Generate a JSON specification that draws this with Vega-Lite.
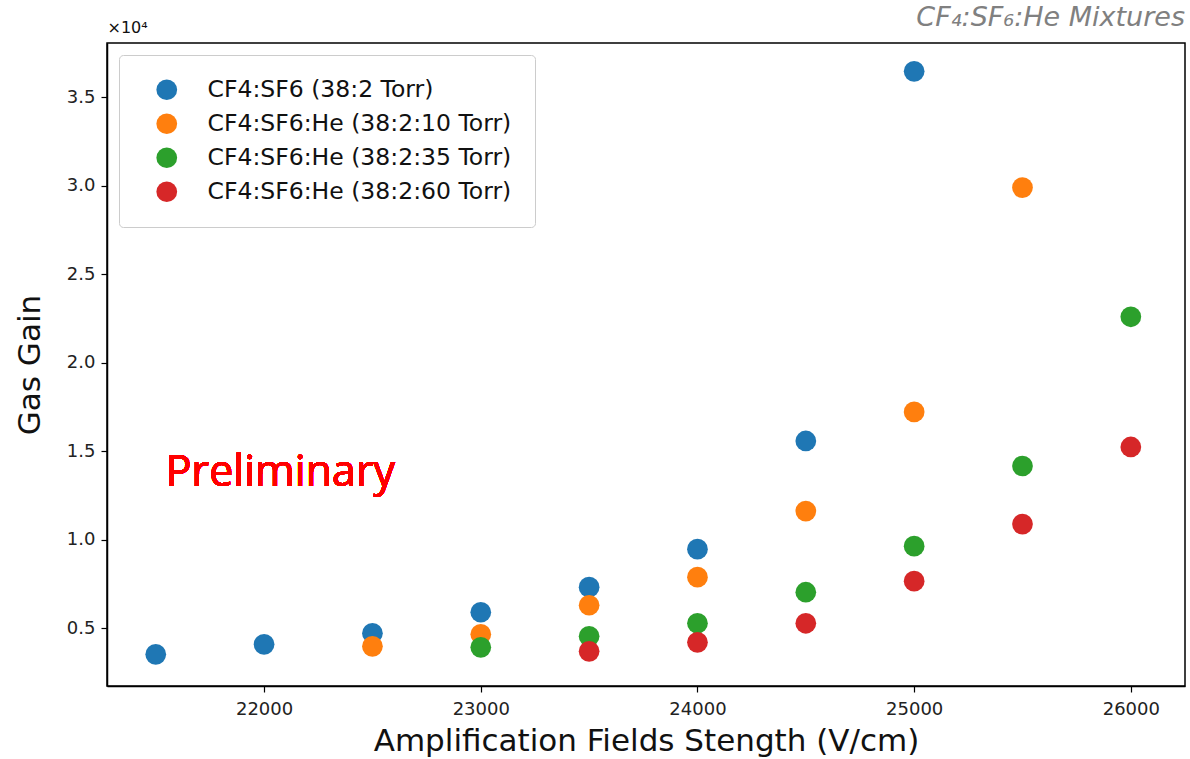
{
  "$schema": "https://vega.github.io/schema/vega-lite/v6.json",
  "width": 1078,
  "height": 643,
  "autosize": "none",
  "padding": {"left": 107, "top": 43, "right": 5, "bottom": 73},
  "background": "white",
  "config": {
    "font": "DejaVu Sans",
    "view": {"stroke": "black", "strokeWidth": 1.5},
    "axis": {
      "grid": false,
      "domainColor": "black",
      "domainWidth": 1.5,
      "tickColor": "black",
      "tickWidth": 1.2,
      "tickSize": 6,
      "labelColor": "#222222",
      "labelFontSize": 18,
      "labelFont": "DejaVu Sans",
      "titleFont": "DejaVu Sans",
      "titleFontWeight": "normal",
      "titleFontSize": 31,
      "titleColor": "#111111"
    }
  },
  "title": {
    "text": "CF₄:SF₆:He Mixtures",
    "anchor": "end",
    "font": "DejaVu Sans",
    "fontStyle": "italic",
    "fontWeight": "normal",
    "fontSize": 27,
    "color": "#808080",
    "offset": -13
  },
  "data": {
    "values": [
      {"field": 21500, "gain": 3530, "mix": "CF4:SF6 (38:2 Torr)"},
      {"field": 22000, "gain": 4095, "mix": "CF4:SF6 (38:2 Torr)"},
      {"field": 22500, "gain": 4717, "mix": "CF4:SF6 (38:2 Torr)"},
      {"field": 23000, "gain": 5905, "mix": "CF4:SF6 (38:2 Torr)"},
      {"field": 23500, "gain": 7319, "mix": "CF4:SF6 (38:2 Torr)"},
      {"field": 24000, "gain": 9468, "mix": "CF4:SF6 (38:2 Torr)"},
      {"field": 24500, "gain": 15577, "mix": "CF4:SF6 (38:2 Torr)"},
      {"field": 25000, "gain": 36448, "mix": "CF4:SF6 (38:2 Torr)"},
      {"field": 22500, "gain": 3982, "mix": "CF4:SF6:He (38:2:10 Torr)"},
      {"field": 23000, "gain": 4660, "mix": "CF4:SF6:He (38:2:10 Torr)"},
      {"field": 23500, "gain": 6300, "mix": "CF4:SF6:He (38:2:10 Torr)"},
      {"field": 24000, "gain": 7885, "mix": "CF4:SF6:He (38:2:10 Torr)"},
      {"field": 24500, "gain": 11618, "mix": "CF4:SF6:He (38:2:10 Torr)"},
      {"field": 25000, "gain": 17217, "mix": "CF4:SF6:He (38:2:10 Torr)"},
      {"field": 25500, "gain": 29887, "mix": "CF4:SF6:He (38:2:10 Torr)"},
      {"field": 23000, "gain": 3925, "mix": "CF4:SF6:He (38:2:35 Torr)"},
      {"field": 23500, "gain": 4548, "mix": "CF4:SF6:He (38:2:35 Torr)"},
      {"field": 24000, "gain": 5283, "mix": "CF4:SF6:He (38:2:35 Torr)"},
      {"field": 24500, "gain": 7036, "mix": "CF4:SF6:He (38:2:35 Torr)"},
      {"field": 25000, "gain": 9638, "mix": "CF4:SF6:He (38:2:35 Torr)"},
      {"field": 25500, "gain": 14163, "mix": "CF4:SF6:He (38:2:35 Torr)"},
      {"field": 26000, "gain": 22590, "mix": "CF4:SF6:He (38:2:35 Torr)"},
      {"field": 23500, "gain": 3699, "mix": "CF4:SF6:He (38:2:60 Torr)"},
      {"field": 24000, "gain": 4208, "mix": "CF4:SF6:He (38:2:60 Torr)"},
      {"field": 24500, "gain": 5283, "mix": "CF4:SF6:He (38:2:60 Torr)"},
      {"field": 25000, "gain": 7658, "mix": "CF4:SF6:He (38:2:60 Torr)"},
      {"field": 25500, "gain": 10882, "mix": "CF4:SF6:He (38:2:60 Torr)"},
      {"field": 26000, "gain": 15238, "mix": "CF4:SF6:He (38:2:60 Torr)"}
    ]
  },
  "layer": [
    {
      "mark": {"type": "circle", "size": 430, "opacity": 1},
      "encoding": {
        "x": {
          "field": "field",
          "type": "quantitative",
          "scale": {"domain": [21275, 26250], "nice": false, "zero": false},
          "axis": {
            "values": [22000, 23000, 24000, 25000, 26000],
            "format": "d",
            "labelPadding": 8,
            "title": "Amplification Fields Stength (V/cm)",
            "titlePadding": 8
          }
        },
        "y": {
          "field": "gain",
          "type": "quantitative",
          "scale": {"domain": [1740, 38050], "nice": false, "zero": false},
          "axis": {
            "values": [5000, 10000, 15000, 20000, 25000, 30000, 35000],
            "labelExpr": "format(datum.value / 10000, '.1f')",
            "labelPadding": 6,
            "title": "Gas Gain",
            "titlePadding": 20
          }
        },
        "color": {
          "field": "mix",
          "type": "nominal",
          "scale": {
            "domain": ["CF4:SF6 (38:2 Torr)", "CF4:SF6:He (38:2:10 Torr)", "CF4:SF6:He (38:2:35 Torr)", "CF4:SF6:He (38:2:60 Torr)"],
            "range": ["#1f77b4", "#ff7f0e", "#2ca02c", "#d62728"]
          },
          "legend": {
            "title": null,
            "orient": "top-left",
            "offset": 12,
            "padding": 23,
            "fillColor": "white",
            "strokeColor": "#cccccc",
            "cornerRadius": 4,
            "symbolType": "circle",
            "symbolSize": 430,
            "symbolOffset": 13,
            "symbolStrokeWidth": 0,
            "labelFontSize": 23.5,
            "labelFont": "DejaVu Sans",
            "labelColor": "#111111",
            "labelLimit": 500,
            "labelOffset": 29,
            "rowPadding": 9
          }
        }
      }
    },
    {
      "mark": {"type": "text", "font": "Open Sans", "fontSize": 43, "color": "#ff0000", "align": "left", "baseline": "middle"},
      "encoding": {
        "x": {
          "datum": 21546,
          "type": "quantitative",
          "axis": {
            "orient": "top",
            "labels": false,
            "ticks": false,
            "domain": false,
            "title": "×10⁴",
            "titleFontSize": 16,
            "titleAnchor": "start",
            "titleAlign": "left",
            "titleBaseline": "bottom",
            "titleX": 0,
            "titleY": -8
          }
        },
        "y": {"datum": 13767, "type": "quantitative"},
        "text": {"value": "Preliminary"}
      }
    }
  ],
  "resolve": {"axis": {"x": "independent"}}
}
